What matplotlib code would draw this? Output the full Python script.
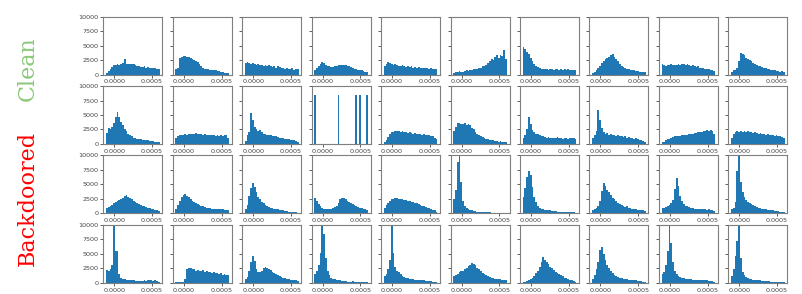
import numpy as np
import matplotlib
matplotlib.use("Agg")
import matplotlib.pyplot as plt

# ---------------- data ----------------
bin_lo, bin_hi, n_bins = -0.00011, 0.0006, 30
xtick_vals = [0.0, 0.0005]
xtick_labels = ["0.0000", "0.0005"]
ytick_vals = [0, 2500, 5000, 7500, 10000]
row_labels = ["Clean", "Backdoored"]

# Row 1: clean models
clean = [
    [300, 600, 900, 1300, 1600, 1700, 1800, 1700, 1900, 2000, 2600, 1900, 1800, 1900, 1800, 1900, 1700, 1500, 1400, 1300, 1300, 1400, 1200, 1300, 1200, 1100, 1200, 1100, 1000, 900],
    [1000, 1200, 2900, 3100, 3200, 3200, 3100, 3000, 2800, 2700, 2500, 2300, 2100, 1800, 1500, 1200, 1000, 900, 900, 800, 700, 700, 700, 600, 600, 500, 400, 300, 200, 200],
    [2000, 2100, 2000, 1900, 2000, 1800, 1700, 1900, 1600, 1700, 1500, 1600, 1400, 1700, 1500, 1300, 1500, 1200, 1400, 1300, 1100, 1200, 1000, 1100, 900, 1000, 1100, 800, 1000, 900],
    [800, 1100, 1500, 1900, 2100, 2000, 1700, 1500, 1400, 1300, 1300, 1400, 1500, 1600, 1700, 1600, 1700, 1600, 1500, 1400, 1300, 1100, 1000, 900, 800, 700, 700, 600, 500, 400],
    [1500, 1900, 2100, 2000, 1900, 1700, 1800, 1600, 1500, 1500, 1600, 1400, 1300, 1500, 1300, 1400, 1200, 1300, 1200, 1300, 1100, 1200, 1100, 1200, 1100, 1000, 1100, 1000, 1000, 900],
    [300, 400, 400, 600, 500, 500, 600, 700, 600, 700, 800, 900, 900, 1000, 1100, 1200, 1400, 1500, 1700, 2000, 2300, 2600, 2500, 3000, 3300, 2800, 3400, 3200, 4300, 2600],
    [4800, 4400, 3900, 3500, 2800, 2300, 1900, 1500, 1300, 1100, 1000, 900, 1000, 900, 800, 1000, 900, 800, 900, 1000, 800, 900, 800, 900, 800, 900, 800, 800, 700, 800],
    [300, 500, 700, 1100, 1500, 2000, 2400, 2700, 2900, 3000, 3300, 3600, 3000, 2700, 2300, 1800, 1500, 1300, 1100, 900, 1000, 800, 700, 800, 600, 600, 500, 500, 400, 400],
    [1900, 1600, 1500, 1700, 1600, 1800, 1700, 1600, 1700, 1800, 1700, 1900, 1800, 1700, 1800, 1600, 1500, 1600, 1400, 1300, 1400, 1200, 1100, 1200, 1000, 900, 900, 800, 700, 600],
    [500, 700, 800, 1200, 2400, 3800, 3500, 3300, 2800, 2600, 2500, 2300, 2000, 1800, 1700, 1500, 1400, 1300, 1200, 1100, 1000, 900, 800, 700, 700, 600, 600, 500, 600, 400],
]

# Rows 2-4: backdoored models
backdoor_a = [
    [1900, 2700, 2600, 2900, 3600, 4700, 5600, 4600, 3800, 3200, 2600, 2200, 1800, 1500, 1300, 1100, 1000, 900, 800, 800, 700, 700, 600, 600, 500, 500, 500, 400, 400, 300],
    [1000, 1400, 1500, 1600, 1500, 1700, 1600, 1700, 1800, 1700, 1800, 1900, 1700, 1800, 1700, 1600, 1700, 1600, 1500, 1600, 1500, 1600, 1400, 1500, 1400, 1500, 1300, 1500, 1600, 1100],
    [500, 1500, 2000, 5400, 4100, 2900, 2500, 2200, 2400, 2000, 1800, 1700, 1600, 1500, 1500, 1400, 1300, 1400, 1200, 1100, 1000, 1100, 900, 900, 800, 700, 700, 600, 500, 400],
    [8500, 0, 0, 0, 0, 0, 0, 0, 0, 0, 0, 0, 0, 8500, 0, 0, 0, 0, 0, 0, 0, 0, 0, 8500, 0, 8500, 0, 0, 0, 8500],
    [400, 700, 1200, 1700, 2000, 2100, 2200, 2300, 2200, 2100, 2200, 2000, 2100, 1900, 2000, 1900, 1800, 1900, 1700, 1800, 1700, 1600, 1700, 1600, 1500, 1600, 1400, 1300, 1100, 800],
    [2300, 3000, 3600, 3700, 3500, 3400, 3600, 3300, 3400, 3200, 2800, 2500, 2000, 1700, 1500, 1300, 1200, 1000, 900, 800, 700, 700, 600, 500, 500, 400, 500, 400, 300, 300],
    [1000, 1600, 2600, 4600, 3400, 2400, 2000, 1700, 1800, 1500, 1300, 1400, 1200, 1100, 1200, 1100, 1000, 1100, 1000, 1200, 1000, 1100, 900, 1000, 1100, 900, 1000, 1100, 1000, 800],
    [1000, 1600, 2300, 5900, 4200, 2700, 2000, 1700, 1900, 1600, 1700, 1500, 1600, 1400, 1500, 1300, 1400, 1200, 1300, 1100, 1200, 1000, 1100, 900, 1000, 800, 700, 600, 500, 400],
    [300, 400, 600, 800, 900, 1100, 1200, 1300, 1400, 1300, 1400, 1500, 1600, 1500, 1600, 1700, 1700, 1800, 1900, 1900, 2000, 2100, 2100, 2200, 2300, 2400, 2200, 2400, 2300, 1800],
    [1000, 1800, 2100, 2200, 2100, 2300, 2100, 2200, 2000, 2200, 2100, 2000, 1900, 2000, 1900, 1800, 1900, 1800, 1700, 1600, 1700, 1600, 1500, 1600, 1400, 1500, 1400, 1300, 1200, 1000],
]

backdoor_b = [
    [900, 1100, 1200, 1500, 1700, 1900, 2100, 2300, 2500, 2700, 3000, 3200, 2900, 2700, 2500, 2200, 2000, 1800, 1600, 1500, 1300, 1200, 1100, 1000, 900, 800, 700, 600, 500, 400],
    [800, 1400, 2200, 2900, 3200, 3300, 3000, 2800, 2400, 2100, 1900, 1800, 1600, 1500, 1300, 1200, 1100, 1000, 900, 900, 800, 800, 700, 800, 700, 700, 800, 600, 600, 500],
    [800, 1500, 3000, 4300, 5300, 4500, 3600, 2800, 2400, 2000, 1700, 1500, 1300, 1100, 1000, 900, 800, 700, 700, 600, 500, 500, 400, 400, 300, 300, 300, 200, 200, 100],
    [2600, 2200, 1600, 1200, 900, 800, 700, 700, 800, 800, 900, 1100, 1300, 1700, 2500, 2700, 2600, 2400, 2200, 2000, 1800, 1600, 1400, 1300, 1100, 1000, 900, 800, 700, 500],
    [1000, 1400, 1800, 2100, 2400, 2500, 2600, 2600, 2500, 2500, 2400, 2300, 2300, 2200, 2100, 2000, 1900, 1800, 1700, 1600, 1400, 1300, 1200, 1100, 1000, 900, 800, 600, 500, 300],
    [2500, 4000, 8800, 12000, 5500, 2200, 1200, 900, 700, 600, 500, 400, 400, 300, 300, 300, 200, 200, 200, 200, 200, 100, 100, 100, 100, 100, 100, 100, 100, 100],
    [2800, 4400, 6200, 7300, 6600, 4600, 2800, 1900, 1300, 1000, 800, 700, 600, 600, 500, 500, 400, 400, 400, 300, 300, 300, 300, 300, 200, 300, 200, 200, 200, 100],
    [500, 700, 1000, 1300, 2200, 3900, 5300, 4800, 4100, 3600, 3100, 2700, 2400, 2100, 1800, 1600, 1400, 1300, 1100, 1200, 1000, 900, 800, 700, 700, 600, 600, 500, 500, 400],
    [900, 1000, 1100, 1200, 1400, 1700, 2300, 4200, 6100, 4800, 3000, 2100, 1600, 1300, 1200, 1100, 1000, 900, 800, 800, 700, 800, 700, 700, 700, 600, 700, 600, 500, 400],
    [700, 900, 1900, 7400, 12000, 5500, 3600, 2800, 2300, 2000, 1800, 1600, 1400, 1200, 1100, 1000, 900, 800, 700, 700, 600, 600, 500, 500, 400, 400, 400, 300, 300, 200],
]

backdoor_c = [
    [2200, 2000, 2300, 3100, 12000, 5500, 5400, 1500, 900, 700, 600, 500, 500, 400, 400, 400, 300, 300, 300, 300, 300, 400, 300, 400, 500, 400, 300, 400, 300, 200],
    [100, 100, 100, 100, 200, 700, 2400, 2600, 2500, 2400, 2300, 2100, 2200, 2000, 2100, 2200, 1900, 2000, 1800, 1900, 1700, 1800, 1600, 1700, 1500, 1600, 1400, 1500, 1400, 1300],
    [600, 1000, 2000, 3500, 4600, 3700, 2400, 1900, 1800, 2000, 2500, 2800, 2600, 2400, 2200, 1900, 1700, 1500, 1300, 1100, 1000, 900, 800, 700, 600, 500, 500, 400, 400, 300],
    [1500, 2000, 3000, 5200, 12000, 8500, 4200, 2100, 1300, 900, 700, 600, 500, 400, 400, 300, 300, 300, 200, 200, 200, 300, 200, 200, 200, 200, 200, 100, 100, 100],
    [1200, 1500, 2400, 4000, 12000, 5200, 2800, 2100, 1800, 1500, 1200, 1000, 900, 800, 700, 700, 600, 500, 500, 500, 400, 400, 400, 300, 300, 300, 300, 200, 200, 200],
    [1200, 1400, 1500, 1800, 2000, 2100, 2300, 2600, 2900, 3100, 3400, 3200, 3000, 2600, 2300, 2000, 1700, 1500, 1300, 1100, 1000, 900, 800, 700, 700, 600, 600, 500, 500, 400],
    [100, 200, 300, 500, 700, 900, 1200, 1600, 2000, 2700, 3600, 4400, 4000, 3500, 3200, 2800, 2500, 2200, 1900, 1700, 1500, 1300, 1100, 900, 800, 600, 500, 400, 300, 200],
    [700, 1300, 2300, 3600, 5600, 6200, 5000, 3900, 3100, 2500, 2000, 1700, 1400, 1200, 1000, 900, 800, 700, 600, 600, 500, 500, 400, 400, 400, 300, 300, 300, 200, 200],
    [1500, 1900, 3000, 5500, 12000, 6800, 3500, 2100, 1500, 1200, 1000, 900, 800, 700, 700, 600, 600, 500, 500, 500, 500, 400, 500, 400, 400, 400, 300, 300, 300, 200],
    [1200, 2300, 4600, 7200, 12000, 4200, 1900, 1300, 1000, 800, 700, 600, 500, 500, 400, 400, 400, 300, 300, 300, 300, 300, 200, 200, 200, 200, 200, 200, 100, 100],
]

rows = [clean, backdoor_a, backdoor_b, backdoor_c]

# ---------------- plot ----------------
edges = np.linspace(bin_lo, bin_hi, n_bins + 1)
centers = 0.5 * (edges[:-1] + edges[1:])

fig, axes = plt.subplots(4, 10, figsize=(8.02, 2.94), dpi=100)
fig.subplots_adjust(left=0.1288, right=0.9817, top=0.9432, bottom=0.0384,
                    wspace=0.177, hspace=0.2)

spine_col = "#7f7f7f"
for r, row in enumerate(rows):
    for c, counts in enumerate(row):
        ax = axes[r, c]
        ax.hist(centers, bins=edges, weights=counts, color="#1f77b4")
        ax.set_ylim(0, 10000)
        ax.set_yticks(ytick_vals)
        ax.set_xticks(xtick_vals, xtick_labels)
        if c != 0:
            ax.set_yticklabels([])
        ax.tick_params(axis="both", labelsize=4.6, length=2, width=0.6,
                       pad=1.5, colors="#444444")
        for s in ax.spines.values():
            s.set_color(spine_col)
            s.set_linewidth(0.8)

fig.text(0.0343, 1 - 68.5 / 294, row_labels[0], rotation=90, ha="center",
         va="center", fontsize=16, family="DejaVu Serif", color="#8cc87a")
fig.text(0.0343, 1 - 198.5 / 294, row_labels[1], rotation=90, ha="center",
         va="center", fontsize=16, family="DejaVu Serif", color="#ff0000")

fig.savefig("out.png", dpi=100)
